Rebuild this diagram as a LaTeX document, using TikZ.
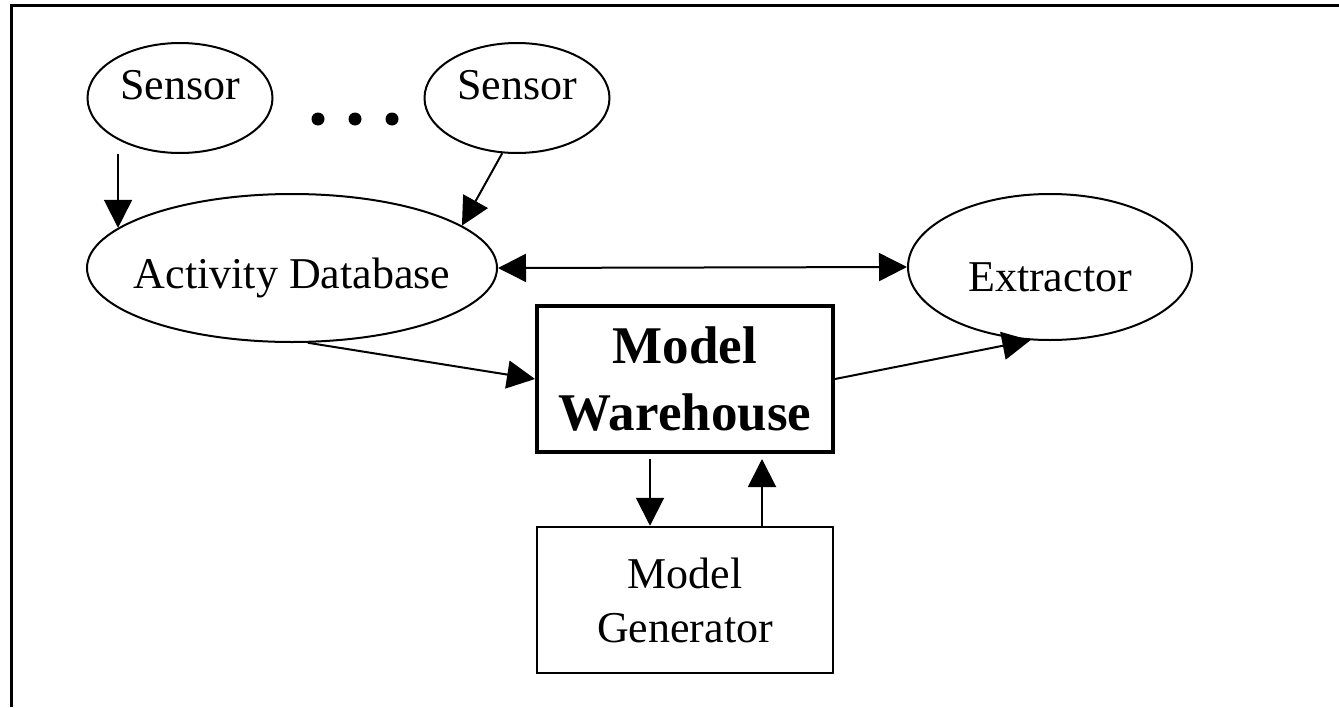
\documentclass[tikz,border=0pt]{standalone}
\usepackage{fontspec}
\setmainfont{Liberation Serif}
\usetikzlibrary{arrows.meta, shapes.geometric}

\begin{document}
\begin{tikzpicture}[
  x=1pt, y=-1pt,
  font=\fontsize{44}{54}\selectfont,
  oval/.style={ellipse, draw, line width=2pt, inner sep=0pt},
  sensor/.style={oval, minimum width=185pt, minimum height=110pt,
                 text height=30pt, text depth=28pt},
  store/.style={oval, minimum width=410pt, minimum height=148pt,
                inner xsep=-60pt, text height=50pt, text depth=10pt},
  tool/.style={oval, minimum width=284pt, minimum height=146pt,
               text height=55pt, text depth=6pt},
  block/.style={rectangle, draw, line width=2.5pt, align=center, inner sep=0pt,
                minimum width=296pt, minimum height=146pt},
  dot/.style={circle, fill, inner sep=0pt, minimum size=13pt},
  arr/.style={-{Triangle[length=28pt, width=28pt]}, line width=2pt},
]
\useasboundingbox (0,0) rectangle (1339,707);
% ---------------- frame
\draw[line width=3.5pt, line join=miter] (11.5,707) -- (11.5,5.5) -- (1339,5.5);
% ---------------- sensors
\node[sensor] (s1) at (180,98) {Sensor};
\node[sensor] (s2) at (517,98) {Sensor};
\foreach \i/\x in {1/318, 2/355, 3/392} {\node[dot] (d\i) at (\x,119) {};}
% ---------------- stores and tools
\node[store] (adb) at (292,268) {Activity Database};
\node[tool] (ex) at (1050,267) {Extractor};
\node[block, line width=4pt, font=\fontsize{53}{67}\selectfont\bfseries]
      (mw) at (685,379) {Model\\Warehouse};
\node[block] (mg) at (685,600) {Model\\Generator};
% ---------------- connectors
\draw[arr] (s1.south -| adb.167) -- (adb.167);
\draw[arr] (s2.255) -- (adb.14);
\draw[arr, {Triangle[length=28pt, width=28pt]}-{Triangle[length=28pt, width=28pt]}]
      (adb.east) -- (ex.west);
\draw[arr] (adb.282) -- (mw.west);
\draw[arr] (mw.east) -- (ex.255);
\draw[arr, shorten <=5pt] ([xshift=-35pt]mw.south) -- ([xshift=-35pt]mg.north);
\draw[arr, shorten >=5pt] ([xshift=77pt]mg.north) -- ([xshift=77pt]mw.south);
\end{tikzpicture}
\end{document}
